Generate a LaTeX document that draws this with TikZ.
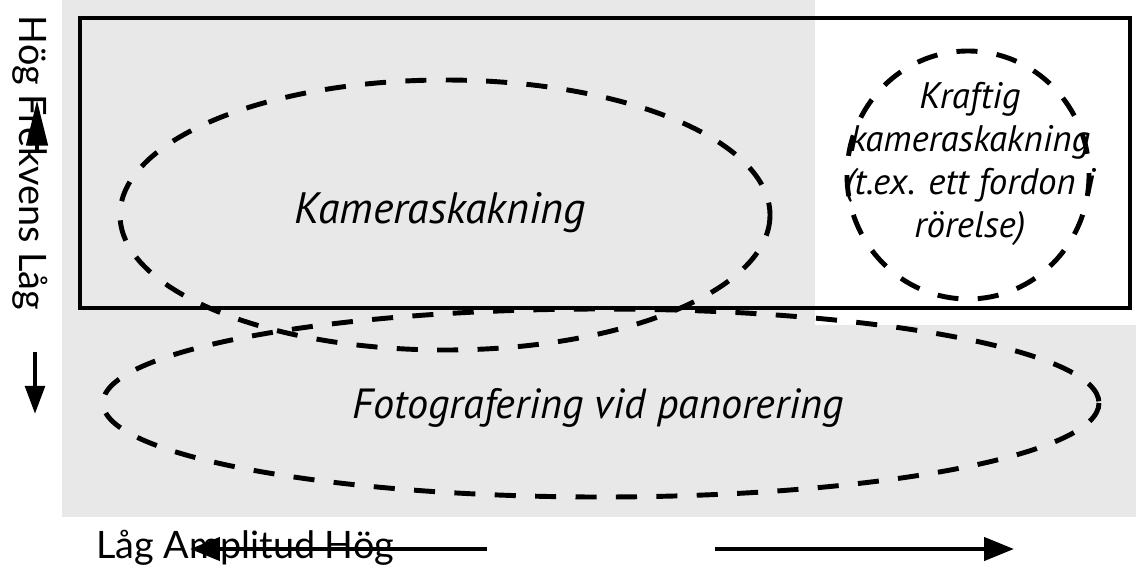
\documentclass[tikz,border=0pt]{standalone}
\usepackage{fontspec}
\setmainfont{PT Sans}
\newfontfamily\axisfont{Lato}
\usetikzlibrary{arrows.meta}
\definecolor{bggray}{RGB}{232,232,232}
\tikzset{
	dashring/.style={line width=2.8pt, dash pattern=on 12pt off 11pt},
	bigtext/.style={font=\itshape\fontsize{25}{30}\selectfont},
	axistext/.style={font=\axisfont\fontsize{21.5}{25}\selectfont},
	axisarrow/.style={line width=2.6pt, -{Triangle[length=17pt,width=13pt]}}
}

\begin{document}
\begin{tikzpicture}[x=0.02cm,y=-0.02cm]
	%%%%% START %%%%%
	\useasboundingbox (0,0) rectangle (1136,572);
	\fill[bggray] (62,0) rectangle (1136,517);
	\fill[white] (815,0) rectangle (1136,325);
	\draw[line width=2.8pt] (80,18) rectangle (1130,308);
	
	\draw[dashring] (445,215) ellipse (325 and 135);
	\draw[dashring] (968,175) ellipse (121 and 124);
	\draw[dashring] (601,403) ellipse (498 and 94);
	
	\node[bigtext] (shake) at (440,213) {Kameraskakning};
	\node[bigtext, font=\itshape\fontsize{21}{24.5}\selectfont, align=center] (strong) at (970,164) {Kraftig\\kameraskakning\\(t.ex. ett fordon i\\rörelse)};
	\node[bigtext, font=\itshape\fontsize{24}{30}\selectfont] (pan) at (598,408) {Fotografering vid panorering};
	
	\node[axistext, rotate=-90] (freq) at (30,163) {Hög Frekvens Låg};
	\node[axistext, anchor=west] (ampl) at (90,548) {Låg Amplitud Hög};
	
	\coordinate (upS) at (37,150);
	\coordinate (upE) at (37,100);
	\coordinate (dnS) at (35,352);
	\coordinate (dnE) at (35,414);
	\coordinate (ltS) at (487,549);
	\coordinate (ltE) at (190,549);
	\coordinate (rtS) at (715,549);
	\coordinate (rtE) at (1014,549);
	\draw[axisarrow, -{Triangle[length=26pt,width=12pt]}] (upS) -- (upE);
	\draw[axisarrow, -{Triangle[length=16pt,width=11pt]}] (dnS) -- (dnE);
	\draw[axisarrow] (ltS) -- (ltE);
	\draw[axisarrow] (rtS) -- (rtE);
	%%%%% END %%%%%
\end{tikzpicture}
\end{document}
